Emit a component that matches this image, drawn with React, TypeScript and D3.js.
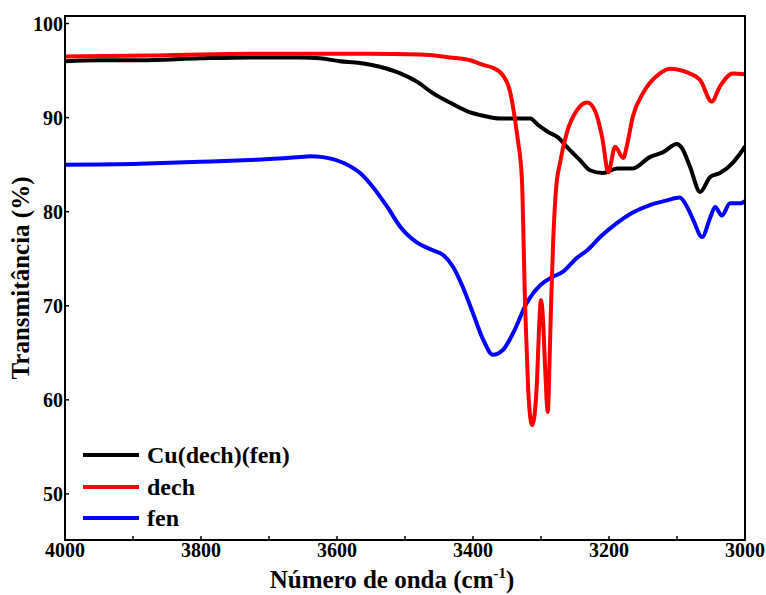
import React from "react";
import * as d3 from "d3";

// FTIR spectra: wavenumber (cm-1) vs transmittance (%)
const complexWn = [4000, 3948, 3890, 3801, 3728, 3654, 3625, 3596, 3566, 3537, 3507, 3482, 3459, 3434, 3409, 3385, 3360, 3331, 3316, 3304, 3290, 3275, 3262, 3243, 3228, 3209, 3188, 3165, 3140, 3121, 3100, 3093, 3081, 3066, 3051, 3037, 3018, 3000];
const complexT = [96.0, 96.1, 96.1, 96.3, 96.4, 96.4, 96.3, 96.0, 95.8, 95.4, 94.7, 93.8, 92.6, 91.6, 90.7, 90.2, 89.9, 89.9, 89.9, 89.2, 88.5, 87.9, 86.9, 85.5, 84.4, 84.1, 84.6, 84.6, 85.8, 86.3, 87.2, 86.8, 84.8, 82.1, 83.7, 84.1, 85.2, 86.9];

const dechWn = [4000, 3875, 3728, 3640, 3556, 3478, 3434, 3404, 3385, 3371, 3356, 3346, 3338, 3334, 3328, 3326, 3324, 3321, 3318, 3313, 3310, 3306, 3303, 3300, 3297, 3294, 3290, 3287, 3285, 3282, 3278, 3272, 3262, 3247, 3232, 3221, 3210, 3201, 3191, 3179, 3174, 3165, 3150, 3125, 3110, 3085, 3066, 3049, 3037, 3018, 3000];
const dechT = [96.5, 96.6, 96.8, 96.8, 96.8, 96.7, 96.4, 96.1, 95.6, 95.3, 94.5, 92.9, 89.7, 87.6, 83.4, 78.1, 71.7, 65.3, 60.0, 57.3, 58.1, 61.8, 67.4, 70.6, 68.5, 63.5, 58.7, 65.3, 70.6, 77.0, 82.3, 85.2, 88.4, 90.8, 91.6, 90.8, 87.9, 84.2, 86.9, 85.7, 86.9, 90.1, 92.6, 94.7, 95.2, 94.8, 94.0, 91.7, 93.3, 94.7, 94.6];

const fenWn = [4000, 3890, 3801, 3728, 3654, 3640, 3621, 3591, 3566, 3547, 3526, 3507, 3482, 3459, 3444, 3429, 3415, 3400, 3385, 3371, 3356, 3341, 3321, 3301, 3282, 3268, 3247, 3232, 3213, 3188, 3165, 3140, 3115, 3096, 3085, 3076, 3063, 3051, 3044, 3034, 3022, 3007, 3000];
const fenT = [85.0, 85.1, 85.3, 85.5, 85.8, 85.9, 85.8, 85.2, 84.1, 82.6, 80.5, 78.4, 76.7, 75.9, 75.4, 74.1, 72.0, 69.2, 66.4, 64.8, 65.3, 67.1, 70.3, 72.2, 73.1, 73.6, 75.1, 75.9, 77.3, 78.8, 79.9, 80.7, 81.2, 81.5, 80.5, 79.1, 77.3, 79.4, 80.5, 79.6, 80.9, 80.9, 81.1];

const seriesNames = ["Cu(dech)(fen)", "dech", "fen"];
const seriesColors = ["#000000", "#ff0000", "#0000ff"];

const xTickLabels = [4000, 3800, 3600, 3400, 3200, 3000];
const xMinorTicks = [3900, 3700, 3500, 3300, 3100];
const yTickLabels = [50, 60, 70, 80, 90, 100];

const W = 766;
const H = 595;
const M = { left: 65, right: 745, top: 16, bottom: 540 };
const FONT = "Liberation Serif";

export default function App() {
  const x = d3.scaleLinear().domain([4000, 3000]).range([M.left, M.right]);
  const y = d3.scaleLinear().domain([45.1, 100.8]).range([M.bottom, M.top]);

  const line = d3
    .line<[number, number]>()
    .x((d) => x(d[0]))
    .y((d) => y(d[1]))
    .curve(d3.curveMonotoneX);

  const series = [
    { name: seriesNames[0], color: seriesColors[0], pts: complexWn.map((w, i) => [w, complexT[i]] as [number, number]) },
    { name: seriesNames[1], color: seriesColors[1], pts: dechWn.map((w, i) => [w, dechT[i]] as [number, number]) },
    { name: seriesNames[2], color: seriesColors[2], pts: fenWn.map((w, i) => [w, fenT[i]] as [number, number]) },
  ];
  // draw order: fen, complex, dech on top
  const drawOrder = [2, 0, 1];

  const legendY = [455, 487, 518];

  return (
    <svg width={W} height={H} fontFamily={FONT} fontWeight="bold" style={{ display: "block", position: "absolute", left: 0, top: 0 }}>
      <rect x={0} y={0} width={W} height={H} fill="#fff" />
      <defs>
        <clipPath id="plotClip">
          <rect x={M.left} y={M.top} width={M.right - M.left} height={M.bottom - M.top} />
        </clipPath>
      </defs>

      <g clipPath="url(#plotClip)">
        {drawOrder.map((k) => (
          <path
            key={series[k].name}
            d={line(series[k].pts) || ""}
            fill="none"
            stroke={series[k].color}
            strokeWidth={4}
            strokeLinejoin="round"
            strokeLinecap="round"
          />
        ))}
      </g>

      {/* frame */}
      <rect
        x={M.left}
        y={M.top}
        width={M.right - M.left}
        height={M.bottom - M.top}
        fill="none"
        stroke="#000"
        strokeWidth={2}
      />

      {/* x ticks */}
      {[...xTickLabels, ...xMinorTicks].map((t) => (
        <line key={"xt" + t} x1={x(t)} x2={x(t)} y1={M.bottom} y2={M.bottom - 4} stroke="#000" strokeWidth={1.5} />
      ))}
      {xTickLabels.map((t) => (
        <text key={"xl" + t} x={x(t)} y={557} textAnchor="middle" fontSize={20} fill="#000">
          {t}
        </text>
      ))}

      {/* y ticks */}
      {yTickLabels.map((t) => (
        <g key={"yt" + t}>
          <line x1={M.left} x2={M.left + 4} y1={y(t)} y2={y(t)} stroke="#000" strokeWidth={1.5} />
          <text x={M.left - 2} y={y(t) + 7} textAnchor="end" fontSize={20} fill="#000">
            {t}
          </text>
        </g>
      ))}

      {/* axis titles */}
      <text x={392} y={588} textAnchor="middle" fontSize={25} fill="#000">
        Número de onda (cm
        <tspan dy={-10} fontSize={15}>-1</tspan>
        <tspan dy={10}>)</tspan>
      </text>
      <text transform={`translate(29, 278) rotate(-90)`} textAnchor="middle" fontSize={25} fill="#000">
        Transmitância (%)
      </text>

      {/* legend */}
      {series.map((s, i) => (
        <g key={"lg" + s.name}>
          <line x1={83} x2={139} y1={legendY[i]} y2={legendY[i]} stroke={s.color} strokeWidth={4} />
          <text x={147} y={legendY[i] + 8} fontSize={24} fill="#000">
            {s.name}
          </text>
        </g>
      ))}
    </svg>
  );
}
